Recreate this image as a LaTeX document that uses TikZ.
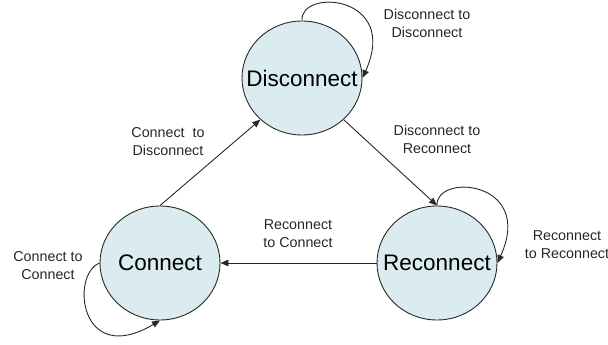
\documentclass[tikz,border=0pt]{standalone}
\usepackage{fontspec}
\setmainfont{Liberation Sans}
\usetikzlibrary{arrows.meta,shapes.geometric}
\definecolor{statefill}{RGB}{219,236,241}
\definecolor{edge}{RGB}{40,40,40}
\tikzset{
  state/.style={ellipse, draw=edge, line width=0.9pt, fill=statefill,
    minimum width=120pt, minimum height=114pt, inner sep=0pt},
  big/.style={font=\fontsize{22.5}{26}\selectfont},
  lab/.style={font=\fontsize{14.3}{18}\selectfont, align=center, text=black!85},
  conn/.style={draw=edge, line width=0.9pt, -{Triangle[length=8pt,width=6.5pt]}}
}
\begin{document}
\begin{tikzpicture}[x=1pt,y=-1pt]
\useasboundingbox (0,0) rectangle (608,345);
\node[state, label={[big]center:Disconnect}] (d) at (302,78) {};
\node[state, label={[big]center:Connect}] (c) at (160,263) {};
\node[state, label={[big]center:Reconnect}] (r) at (437,263) {};

\draw[conn] (c.north) -- (d.225);
\draw[conn] (d.-45) -- (r.north);
\draw[conn] (r.west) -- (c.east);

\draw[conn] (d.north) .. controls (300,-12) and (400,-5) .. (d.east);
\draw[conn] (r.north) .. controls (435,173) and (535,180) .. (r.east);
\draw[conn] (c.west) .. controls (70,275) and (80,368) .. (c.south);

\node[lab] (l1) at (427,23) {Disconnect to\\Disconnect};
\node[lab] (l2) at (437,139) {Disconnect to\\Reconnect};
\node[lab] (l3) at (168,142) {Connect \ to\\Disconnect};
\node[lab] (l4) at (298,234) {Reconnect\\to Connect};
\node[lab] (l5) at (48,266) {Connect to\\Connect};
\node[lab] (l6) at (567,245) {Reconnect\\to Reconnect};
\end{tikzpicture}
\end{document}
